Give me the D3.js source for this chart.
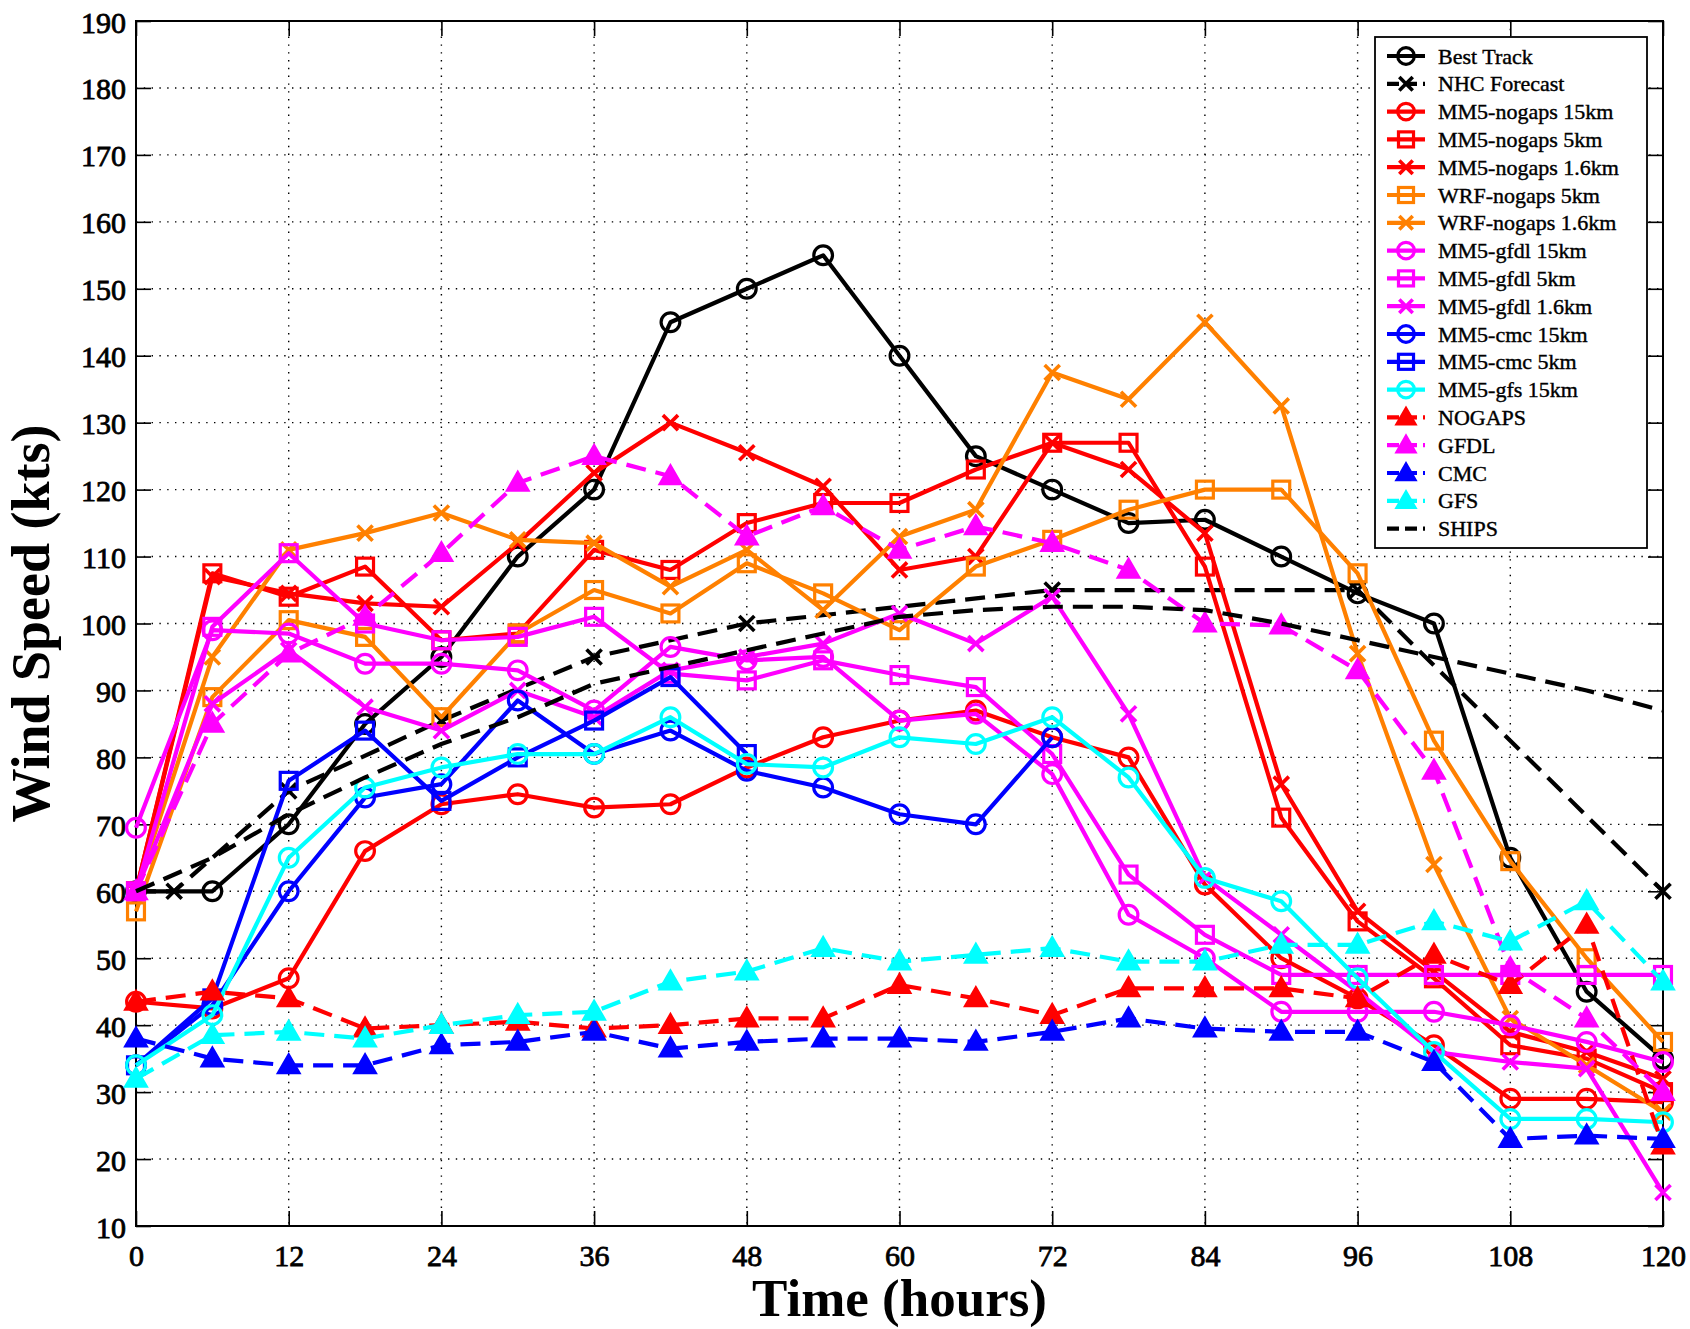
<!DOCTYPE html>
<html>
<head>
<meta charset="utf-8">
<script src="https://d3js.org/d3.v7.min.js"></script>
<style>
body { margin: 0; background: #fff; }
svg text { font-family: "Liberation Serif", "Times New Roman", serif; fill: #000; }
</style>
</head>
<body>
<div id="vis"></div>
<script>
// forecast hours
var hours = [0, 6, 12, 18, 24, 30, 36, 42, 48, 54, 60, 66, 72, 78, 84, 90, 96, 102, 108, 114, 120];
var nhcHours = [0, 3, 12, 24, 36, 48, 72, 96, 120];

// wind speed (kts)
var bestTrack = [60, 60, 70, 85, 95, 110, 120, 145, 150, 155, 140, 125, 120, 115, 115.5, 110, 104.5, 100, 65, 45, 35];
var nhcForecast = [60, 60, 75, 85.5, 95, 100, 105, 105, 60];
var nogaps15 = [43.5, 42.5, 47, 66, 73, 74.5, 72.5, 73, 78.5, 83, 85.5, 87, 83, 80, 61, 50, 44, 37, 29, 29, 28.5];
var nogaps5 = [60, 107.5, 104, 108.5, 97.5, 98.5, 111, 108, 115, 118, 118, 123, 127, 127, 108.5, 71, 55.5, 47, 37, 35, 30];
var nogaps16 = [60, 107, 104.5, 103, 102.5, 112, 122.5, 130, 125.5, 120.5, 108, 110, 127, 123, 113.5, 76, 57, 48, 39, 36, 32];
var wrf5 = [57, 89, 100.5, 98, 86, 98.5, 105, 101.5, 109, 104.5, 99, 108.5, 112.5, 117, 120, 120, 107.5, 82.5, 64.5, 50, 37.5];
var wrf16 = [60, 95, 111, 113.5, 116.5, 112.5, 112, 105.5, 111, 102, 113, 117, 137.5, 133.5, 145, 132.5, 95.5, 64, 41, 34, 27];
var gfdl15 = [69.5, 99, 98.5, 94, 94, 93, 87, 96.5, 94.5, 95, 85.5, 86.5, 77.5, 56.5, 50, 42, 42, 42, 40, 37.5, 34.5];
var gfdl5 = [60, 99.5, 110.5, 100, 97.5, 98, 101, 92.5, 91.5, 94.5, 92.3, 90.5, 80.5, 62.5, 53.5, 47.5, 47.5, 47.5, 47.5, 47.5, 47.5];
var gfdl16 = [60, 88, 96, 87.5, 84, 90, 86, 93, 95, 97, 101.5, 97, 104, 86.5, 62, 53.5, 45, 36, 34.5, 33.5, 15];
var cmc15 = [34, 43, 60, 74, 76, 88.5, 80.5, 84, 78, 75.5, 71.5, 70, 83];
var cmc5 = [34, 44, 76.5, 84, 73.5, 80, 85.5, 92, 80.5];
var gfs15 = [34, 41.5, 65, 75.5, 78.5, 80.5, 80.5, 86, 79, 78.5, 83, 82, 86, 77, 62, 58.5, 47, 36, 26, 26, 25.5];
var nogapsModel = [43.5, 45, 44, 39.5, 40, 40.5, 39.5, 40, 41, 41, 46, 44, 41.5, 45.5, 45.5, 45.5, 44, 50.5, 46, 55, 22];
var gfdlModel = [60, 85, 95.5, 101, 110.5, 121, 125, 122, 113, 117.5, 111, 114.5, 112, 108, 100, 99.7, 93, 78, 48.5, 41, 30];
var cmcModel = [38, 35, 34, 34, 37, 37.5, 39, 36.5, 37.5, 38, 38, 37.5, 39, 41, 39.5, 39, 39, 34.5, 23, 23.5, 23];
var gfsModel = [32, 38.5, 39, 38, 40, 41.5, 42, 46.5, 48, 51.5, 49.5, 50.5, 51.5, 49.5, 49.5, 52, 52, 55.5, 52.5, 58.5, 46.5];
var ships = [60, 65, 71.5, 77, 82, 86, 91, 93.5, 96, 98.5, 101, 102, 102.5, 102.5, 102, 100, 97.5, 95, 92.5, 90, 87];

var xTicks = [0, 12, 24, 36, 48, 60, 72, 84, 96, 108, 120];
var yTicks = [10, 20, 30, 40, 50, 60, 70, 80, 90, 100, 110, 120, 130, 140, 150, 160, 170, 180, 190];

var red = "#ff0000", orange = "#ff8000", magenta = "#ff00ff", blue = "#0000ff", cyan = "#00ffff", black = "#000000";

var series = [
    {name: "Best Track", t: hours, v: bestTrack, color: black, marker: "circle", dashed: false},
    {name: "NHC Forecast", t: nhcHours, v: nhcForecast, color: black, marker: "x", dashed: true},
    {name: "MM5-nogaps 15km", t: hours, v: nogaps15, color: red, marker: "circle", dashed: false},
    {name: "MM5-nogaps 5km", t: hours, v: nogaps5, color: red, marker: "square", dashed: false},
    {name: "MM5-nogaps 1.6km", t: hours, v: nogaps16, color: red, marker: "x", dashed: false},
    {name: "WRF-nogaps 5km", t: hours, v: wrf5, color: orange, marker: "square", dashed: false},
    {name: "WRF-nogaps 1.6km", t: hours, v: wrf16, color: orange, marker: "x", dashed: false},
    {name: "MM5-gfdl 15km", t: hours, v: gfdl15, color: magenta, marker: "circle", dashed: false},
    {name: "MM5-gfdl 5km", t: hours, v: gfdl5, color: magenta, marker: "square", dashed: false},
    {name: "MM5-gfdl 1.6km", t: hours, v: gfdl16, color: magenta, marker: "x", dashed: false},
    {name: "MM5-cmc 15km", t: hours, v: cmc15, color: blue, marker: "circle", dashed: false},
    {name: "MM5-cmc 5km", t: hours, v: cmc5, color: blue, marker: "square", dashed: false},
    {name: "MM5-gfs 15km", t: hours, v: gfs15, color: cyan, marker: "circle", dashed: false},
    {name: "NOGAPS", t: hours, v: nogapsModel, color: red, marker: "triangle", dashed: true},
    {name: "GFDL", t: hours, v: gfdlModel, color: magenta, marker: "triangle", dashed: true},
    {name: "CMC", t: hours, v: cmcModel, color: blue, marker: "triangle", dashed: true},
    {name: "GFS", t: hours, v: gfsModel, color: cyan, marker: "triangle", dashed: true},
    {name: "SHIPS", t: hours, v: ships, color: black, marker: "none", dashed: true}
];

var margin = {top: 21, left: 136},
    width = 1690,
    height = 1329,
    drawWidth = 1527,
    drawHeight = 1205;

var svg = d3.select("#vis").append("svg")
    .attr("width", width)
    .attr("height", height);

var g = svg.append("g")
    .attr("transform", "translate(" + margin.left + "," + margin.top + ")");

var x = d3.scaleLinear().domain([0, 120]).range([0, drawWidth]);
var y = d3.scaleLinear().domain([10, 190]).range([drawHeight, 0]);

// dotted grid
g.selectAll(".vgrid")
    .data(xTicks.slice(1, -1))
    .enter().append("line")
    .attr("x1", function(d) { return x(d); })
    .attr("x2", function(d) { return x(d); })
    .attr("y1", 0)
    .attr("y2", drawHeight)
    .attr("stroke", "#000")
    .attr("stroke-width", 1.4)
    .attr("stroke-dasharray", "1.4,6.4");

g.selectAll(".hgrid")
    .data(yTicks.slice(1, -1))
    .enter().append("line")
    .attr("y1", function(d) { return y(d); })
    .attr("y2", function(d) { return y(d); })
    .attr("x1", 0)
    .attr("x2", drawWidth)
    .attr("stroke", "#000")
    .attr("stroke-width", 1.4)
    .attr("stroke-dasharray", "1.4,6.4");

// axes with inward ticks on all four sides
var gx = g.append("g")
    .attr("transform", "translate(0," + drawHeight + ")")
    .call(d3.axisBottom(x).tickValues(xTicks).tickSize(-15));
gx.selectAll("text")
    .attr("dy", null)
    .attr("y", 40)
    .style("font-size", "30px");

g.append("g")
    .call(d3.axisTop(x).tickValues(xTicks).tickSize(-15).tickFormat(""));

var gy = g.append("g")
    .call(d3.axisLeft(y).tickValues(yTicks).tickSize(-15));
gy.selectAll("text")
    .attr("dy", null)
    .attr("x", -10)
    .attr("y", 11)
    .style("font-size", "30px");

g.append("g")
    .attr("transform", "translate(" + drawWidth + ",0)")
    .call(d3.axisRight(y).tickValues(yTicks).tickSize(-15).tickFormat(""));

g.selectAll(".domain").remove();
g.selectAll(".tick line").attr("stroke", "#000").attr("stroke-width", 1.6);
g.selectAll(".tick text")
    .attr("stroke", "#000")
    .attr("stroke-width", 0.8);

g.append("rect")
    .attr("width", drawWidth)
    .attr("height", drawHeight)
    .attr("fill", "none")
    .attr("stroke", "#000")
    .attr("stroke-width", 2);

// marker drawing
var drawMarker = function(sel, s, size) {
    if (s.marker === "circle") {
        sel.append("circle")
            .attr("r", size * 0.52)
            .attr("fill", "none")
            .attr("stroke", s.color)
            .attr("stroke-width", 3.2);
    } else if (s.marker === "square") {
        sel.append("rect")
            .attr("x", -size * 0.47)
            .attr("y", -size * 0.47)
            .attr("width", size * 0.94)
            .attr("height", size * 0.94)
            .attr("fill", "none")
            .attr("stroke", s.color)
            .attr("stroke-width", 3.2);
    } else if (s.marker === "triangle") {
        sel.append("path")
            .attr("d", d3.symbol(d3.symbolTriangle, size * size * 0.66)())
            .attr("transform", "translate(0,1.5)")
            .attr("fill", s.color)
            .attr("stroke", s.color)
            .attr("stroke-width", 2);
    } else if (s.marker === "x") {
        var h = size * 0.42;
        sel.append("path")
            .attr("d", "M" + (-h) + "," + (-h) + "L" + h + "," + h + "M" + h + "," + (-h) + "L" + (-h) + "," + h)
            .attr("fill", "none")
            .attr("stroke", s.color)
            .attr("stroke-width", 3.6);
    }
};

var line = d3.line()
    .x(function(d) { return x(d[0]); })
    .y(function(d) { return y(d[1]); });

series.forEach(function(s) {
    var pts = s.v.map(function(v, i) { return [s.t[i], v]; });
    var sg = g.append("g").attr("class", "series");

    sg.append("path")
        .datum(pts)
        .attr("d", line)
        .attr("fill", "none")
        .attr("stroke", s.color)
        .attr("stroke-width", 4.2)
        .attr("stroke-linejoin", "round")
        .attr("stroke-dasharray", s.dashed ? "20,10" : null);

    sg.selectAll(".pt")
        .data(pts)
        .enter().append("g")
        .attr("transform", function(d) { return "translate(" + x(d[0]) + "," + y(d[1]) + ")"; })
        .each(function() { drawMarker(d3.select(this), s, 18); });
});

// legend
var legend = svg.append("g").attr("transform", "translate(1375,37)");

legend.append("rect")
    .attr("width", 272)
    .attr("height", 511)
    .attr("fill", "#fff")
    .attr("stroke", "#000")
    .attr("stroke-width", 1.8);

var items = legend.selectAll(".item")
    .data(series)
    .enter().append("g")
    .attr("transform", function(d, i) { return "translate(0," + (19 + i * 27.8) + ")"; });

items.append("line")
    .attr("x1", 12)
    .attr("x2", 50)
    .attr("stroke", function(d) { return d.color; })
    .attr("stroke-width", 4.2)
    .attr("stroke-dasharray", function(d) { return d.dashed ? "12,6" : null; });

items.append("g")
    .attr("transform", "translate(31,0)")
    .each(function(d) { drawMarker(d3.select(this), d, 16); });

items.append("text")
    .attr("x", 63)
    .attr("y", 7.5)
    .attr("stroke", "#000")
    .attr("stroke-width", 0.4)
    .style("font-size", "22px")
    .text(function(d) { return d.name; });

// axis titles
svg.append("text")
    .attr("x", margin.left + drawWidth / 2)
    .attr("y", 1316)
    .attr("text-anchor", "middle")
    .style("font-size", "53px")
    .style("font-weight", "bold")
    .text("Time (hours)");

svg.append("text")
    .attr("transform", "translate(49," + (margin.top + drawHeight / 2) + ") rotate(-90)")
    .attr("text-anchor", "middle")
    .style("font-size", "54px")
    .style("font-weight", "bold")
    .text("Wind Speed (kts)");
</script>
</body>
</html>
